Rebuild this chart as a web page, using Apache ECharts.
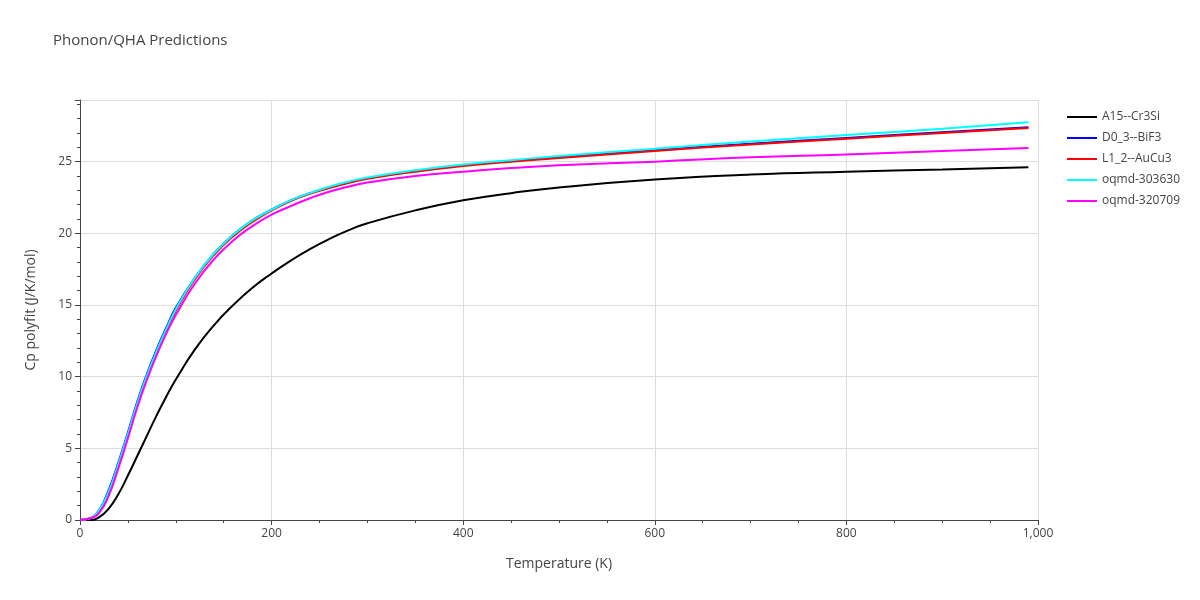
<!DOCTYPE html>
<html><head><meta charset="utf-8">
<script src="https://cdn.jsdelivr.net/npm/echarts@6/dist/echarts.min.js"></script>
<style>html,body{margin:0;padding:0}#c{width:1200px;height:600px}</style>
</head><body><div id="c"></div>
<script>
const T = [0,10,20,30,40,50,60,70,80,90,100,120,140,160,180,200,220,240,260,280,300,350,400,450,500,600,700,800,900,990];
const A15 = [0,0,0.2,0.8,1.8,3.1,4.5,5.9,7.3,8.6,9.8,11.9,13.6,15.0,16.2,17.2,18.1,18.9,19.6,20.2,20.7,21.6,22.3,22.8,23.2,23.75,24.1,24.3,24.45,24.6];
const D03 = [0,0.1,0.7,2.1,4.0,6.1,8.3,10.2,11.9,13.4,14.8,16.9,18.6,19.9,20.9,21.65,22.3,22.8,23.2,23.55,23.85,24.35,24.75,25.05,25.3,25.8,26.25,26.65,27.05,27.4];
const L12 = [0,0.1,0.6,1.9,3.8,5.9,8.1,10.0,11.7,13.2,14.6,16.8,18.5,19.8,20.8,21.6,22.25,22.75,23.15,23.5,23.8,24.3,24.7,25.0,25.25,25.75,26.2,26.6,27.0,27.35];
const Q303630 = [0,0.1,0.7,2.0,3.9,6.0,8.2,10.1,11.8,13.3,14.7,16.9,18.6,19.9,20.9,21.65,22.3,22.8,23.25,23.6,23.9,24.4,24.8,25.1,25.4,25.9,26.4,26.85,27.3,27.75];
const Q320709 = [0,0.1,0.5,1.7,3.6,5.7,7.9,9.8,11.5,13.0,14.3,16.5,18.2,19.5,20.5,21.3,21.9,22.45,22.9,23.25,23.55,24.0,24.3,24.55,24.75,25.0,25.3,25.5,25.75,25.95];
const names = ['A15--Cr3Si','D0_3--BiF3','L1_2--AuCu3','oqmd-303630','oqmd-320709'];
const colors = ['#000000','#0000ff','#ff0000','#00ffff','#ff00ff'];
const data = [A15,D03,L12,Q303630,Q320709];
const chart = echarts.init(document.getElementById('c'));
const ax = {color:'#444',fontFamily:'Open Sans',fontSize:12};
chart.setOption({
  animation:false,
  title:{text:'Phonon/QHA Predictions',left:48,top:28,textStyle:{fontFamily:'Open Sans',fontSize:15,fontWeight:'normal',color:'#444'}},
  legend:{orient:'vertical',left:1062,top:106,itemGap:9,itemWidth:30,icon:'path://M0,0H30V2H0Z',itemHeight:3,
    textStyle:{fontFamily:'Open Sans',fontSize:12,color:'#444'},data:names},
  grid:{left:80,right:162,top:100,bottom:80},
  xAxis:{type:'value',min:0,max:1000,interval:200,name:'Temperature (K)',nameLocation:'middle',nameGap:37,
    nameTextStyle:{fontFamily:'Open Sans',fontSize:14,color:'#444'},
    axisLine:{show:true,onZero:false,lineStyle:{color:'#444'}},axisTick:{show:true,length:5,lineStyle:{color:'#444'}},
    minorTick:{show:true,splitNumber:4,length:3,lineStyle:{color:'#444'}},
    axisLabel:ax,splitLine:{show:true,lineStyle:{color:'#ddd'}}},
  yAxis:{type:'value',min:0,max:29.3,interval:5,name:'Cp polyfit (J/K/mol)',nameLocation:'middle',nameGap:42,
    nameTextStyle:{fontFamily:'Open Sans',fontSize:14,color:'#444'},
    axisLine:{show:true,lineStyle:{color:'#444'}},axisTick:{show:true,length:5,lineStyle:{color:'#444'}},
    minorTick:{show:true,splitNumber:5,length:3,lineStyle:{color:'#444'}},
    axisLabel:{...ax,showMaxLabel:false},splitLine:{show:true,lineStyle:{color:'#ddd'}}},
  series:names.map((n,i)=>({name:n,type:'line',smooth:true,showSymbol:false,color:colors[i],
    lineStyle:{width:2,color:colors[i]},data:T.map((t,j)=>[t,data[i][j]])}))
});
</script></body></html>
